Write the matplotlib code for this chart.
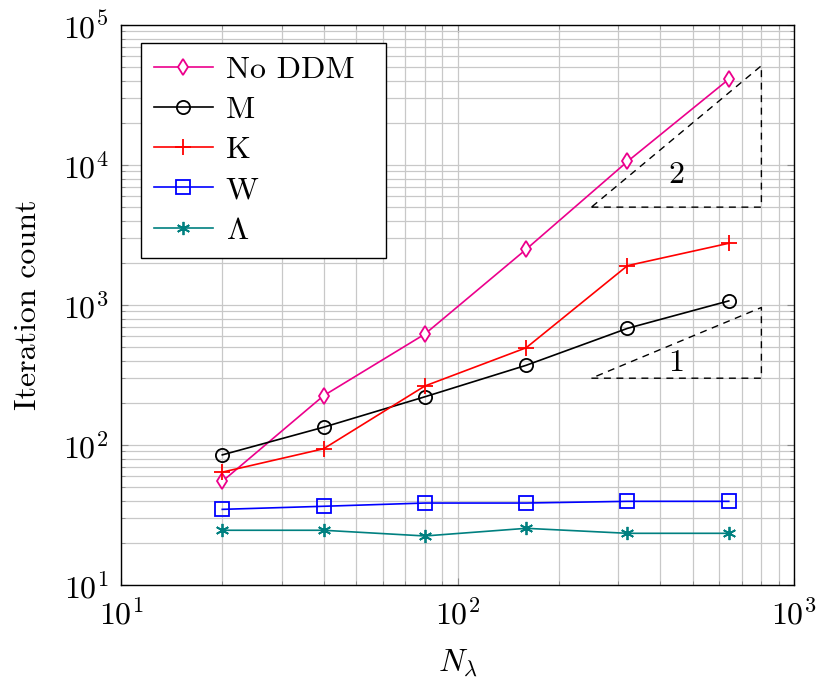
import matplotlib
matplotlib.use("Agg")
import matplotlib.pyplot as plt

# data
n_lambda = [20, 40, 80, 160, 320, 640]
no_ddm = [55, 225, 620, 2500, 10600, 41000]
m_vals = [85, 134, 221, 371, 681, 1070]
k_vals = [64, 94, 264, 495, 1910, 2760]
w_vals = [34.7, 36.5, 38.5, 38.5, 39.6, 39.6]
lam_vals = [24.6, 24.6, 22.4, 25.4, 23.4, 23.4]

# slope triangles
tri2_x = [250, 800, 800, 250]
tri2_y = [5000, 5000, 51200, 5000]
tri1_x = [250, 800, 800, 250]
tri1_y = [300, 300, 960, 300]

plt.rcParams['font.family'] = 'cmr10'
plt.rcParams['mathtext.fontset'] = 'cm'
plt.rcParams['axes.unicode_minus'] = False
plt.rcParams['axes.formatter.use_mathtext'] = True

fs = 23

fig = plt.figure(figsize=(8.30, 6.88), dpi=100)
ax = fig.add_axes([121/830, 1 - 585/688, 673/830, 560/688])

lw = 1.2
ax.plot(n_lambda, no_ddm, color='#EC008C', lw=lw, marker='d', ms=8.5, mfc='white', mew=1.3, label='No DDM')
ax.plot(n_lambda, m_vals, color='black', lw=lw, marker='o', ms=9.5, mfc='none', mew=1.3, label='M')
ax.plot(n_lambda, k_vals, color='red', lw=lw, marker='+', ms=11, mew=1.3, label='K')
ax.plot(n_lambda, w_vals, color='blue', lw=lw, marker='s', ms=10, mfc='none', mew=1.3, label='W')
ax.plot(n_lambda, lam_vals, color='#008080', lw=lw, marker=(6, 2, 0), ms=9.5, mew=1.3, label=r'$\Lambda$')

ax.plot(tri2_x, tri2_y, color='black', lw=1.0, dashes=(5, 4))
ax.plot(tri1_x, tri1_y, color='black', lw=1.0, dashes=(5, 4))
ax.text(446, 8490, '2', fontsize=fs, ha='center', va='center')
ax.text(446, 385, '1', fontsize=fs, ha='center', va='center')

ax.set_xscale('log')
ax.set_yscale('log')
ax.set_xlim(10, 1000)
ax.set_ylim(10, 1e5)

ax.grid(True, which='both', color='#c8c8c8', lw=0.9)
ax.set_axisbelow(True)
ax.tick_params(which='both', direction='in', top=True, right=True, colors='#888888', labelcolor='black', labelsize=fs)
ax.tick_params(which='major', length=5)
ax.tick_params(which='minor', length=3)
ax.tick_params(axis='x', which='major', pad=10)
ax.tick_params(axis='y', which='major', pad=9)
for s in ax.spines.values():
    s.set_linewidth(1.0)

ax.set_xlabel(r'$N_\lambda$', fontsize=fs, labelpad=12)
ax.set_ylabel('Iteration count', fontsize=fs, labelpad=15)

leg = ax.legend(loc='upper left', bbox_to_anchor=(0.0297, 0.0, 0.364, 0.968), mode='expand',
                fontsize=fs, frameon=True,
                fancybox=False, framealpha=1, edgecolor='black', borderaxespad=0,
                handlelength=1.85, handletextpad=0.4, labelspacing=0.37, borderpad=0.4)
leg.get_frame().set_linewidth(1.0)

fig.savefig('out.png', dpi=100)
